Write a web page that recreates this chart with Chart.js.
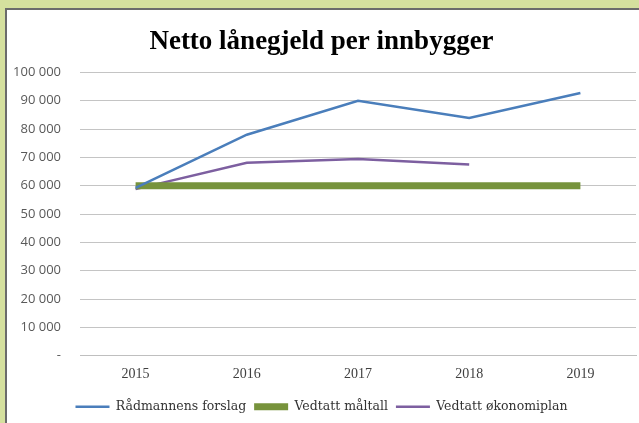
<!DOCTYPE html>
<html>
<head>
<meta charset="utf-8">
<script src="https://cdn.jsdelivr.net/npm/chart.js@4/dist/chart.umd.min.js"></script>
<style>
  html, body { margin: 0; padding: 0; }
  body { width: 639px; height: 423px; overflow: hidden; background: #d5e09e; position: relative; }
  #panel {
    position: absolute; left: 5px; top: 8px; width: 640px; height: 420px;
    background: #fff; border-left: 2px solid #6b6b6b; border-top: 2px solid #6b6b6b;
  }
  #chart { position: absolute; left: 0; top: 0; }
</style>
</head>
<body>
<div id="panel"><canvas id="chart" width="632" height="413"></canvas></div>
<script>
// data
const years = ['2015', '2016', '2017', '2018', '2019'];
const radmannensForslag = [59200, 78000, 90000, 83900, 92700];
const vedtattMaltall = [60000, 60000, 60000, 60000, 60000];
const vedtattOkonomiplan = [58800, 68100, 69400, 67500, null];
const yTicks = [0, 10000, 20000, 30000, 40000, 50000, 60000, 70000, 80000, 90000, 100000];

function fmt(v) {
  if (v === 0) return '-';
  return String(v).replace(/\B(?=(\d{3})+(?!\d))/g, ' ');
}

const ctx = document.getElementById('chart');
const chart = new Chart(ctx, {
  type: 'line',
  data: {
    labels: years,
    datasets: [
      {
        label: 'Rådmannens forslag',
        data: radmannensForslag,
        borderColor: '#4a7ebb',
        backgroundColor: '#4a7ebb',
        borderWidth: 2.5,
        pointRadius: 0,
        pointStyle: 'line',
        tension: 0,
      },
      {
        label: 'Vedtatt måltall',
        data: vedtattMaltall,
        borderColor: '#77933c',
        backgroundColor: '#77933c',
        borderWidth: 7,
        pointRadius: 0,
        pointStyle: 'line',
        borderCapStyle: 'butt',
      },
      {
        label: 'Vedtatt økonomiplan',
        data: vedtattOkonomiplan,
        borderColor: '#7d5fa0',
        backgroundColor: '#7d5fa0',
        borderWidth: 2.5,
        pointRadius: 0,
        pointStyle: 'line',
        tension: 0,
        spanGaps: false,
      },
    ],
  },
  options: {
    responsive: false,
    animation: false,
    layout: { padding: { left: 0, right: 3, top: 0, bottom: 0 } },
    plugins: {
      title: {
        display: true,
        text: 'Netto lånegjeld per innbygger',
        color: '#000',
        font: { family: '"Liberation Serif", "Times New Roman", serif', size: 27, weight: 'bold' },
        padding: { top: 16, bottom: 14 },
      },
      legend: {
        position: 'bottom',
        labels: {
          usePointStyle: true,
          pointStyleWidth: 34,
          padding: 8,
          color: '#333',
          font: { family: '"DejaVu Serif", serif', size: 12.5 },
        },
      },
      tooltip: { enabled: false },
    },
    scales: {
      x: {
        offset: true,
        grid: { display: false, drawTicks: false },
        border: { display: true, color: '#bfbfbf', width: 1 },
        ticks: {
          padding: 10,
          color: '#404040',
          font: { family: '"Liberation Serif", serif', size: 14 },
        },
      },
      y: {
        min: 0,
        max: 100000,
        afterBuildTicks: (scale) => { scale.ticks = yTicks.map((v) => ({ value: v })); },
        afterFit: (scale) => { scale.width = 73; },
        grid: { color: '#c4c4c4', lineWidth: 1, drawTicks: false },
        border: { display: false },
        ticks: {
          padding: 19,
          color: '#595959',
          font: { family: '"Open Sans", sans-serif', size: 13 },
          callback: (v) => fmt(v),
        },
      },
    },
  },
});
</script>
</body>
</html>
